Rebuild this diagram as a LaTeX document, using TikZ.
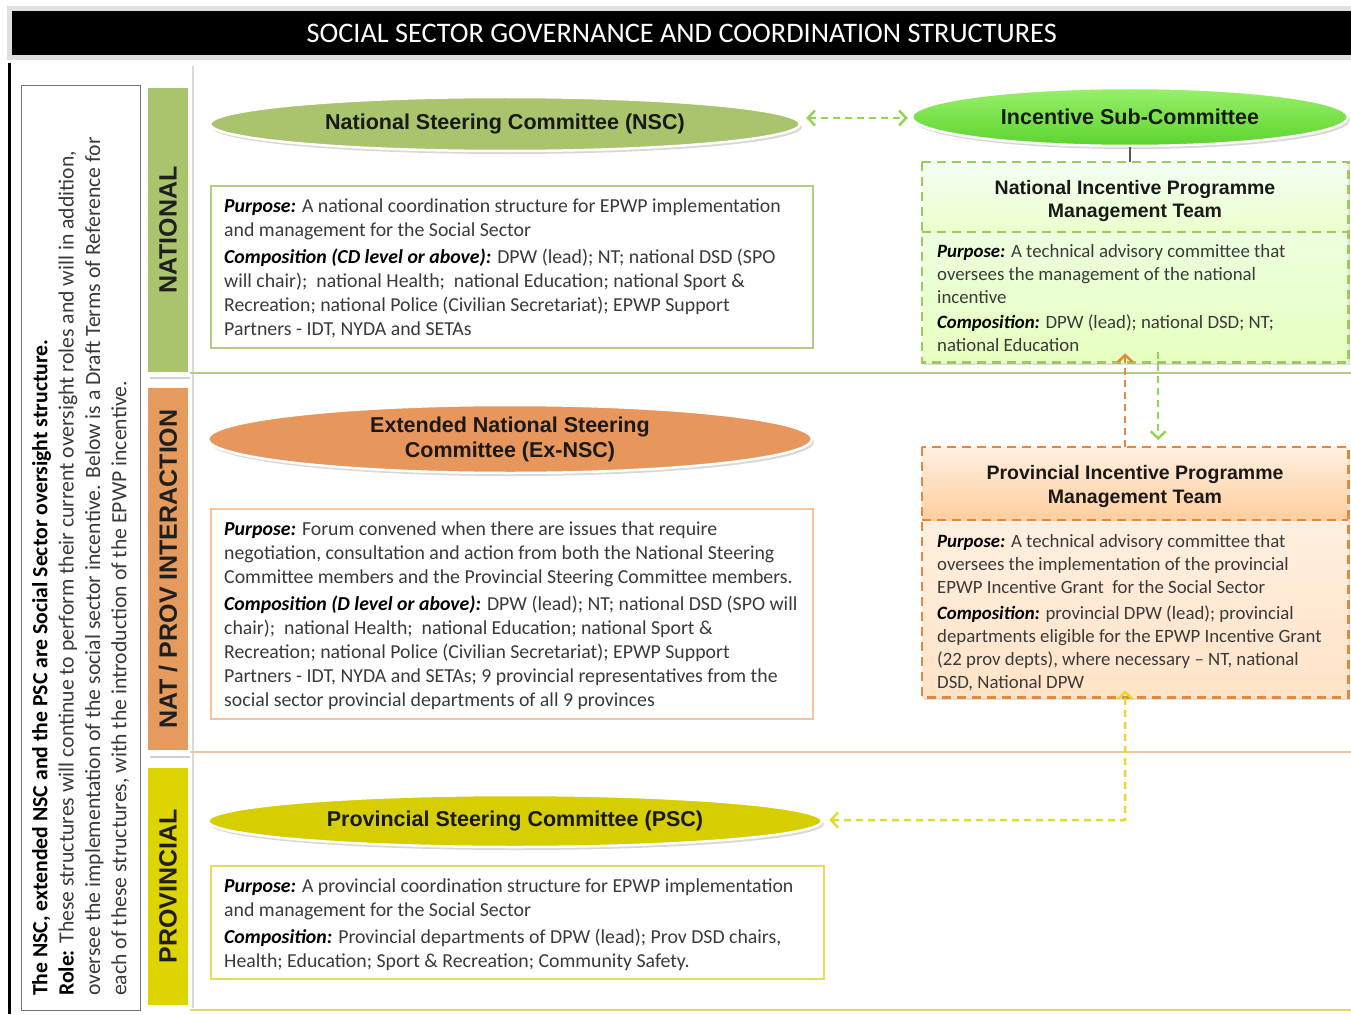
\documentclass[tikz,border=0pt]{standalone}
\usepackage{fontspec}
\setmainfont{Carlito}
\newfontfamily\headfont{Liberation Sans}
\usetikzlibrary{shapes.geometric,shadows,arrows.meta,calc}

\definecolor{natgreen}{HTML}{A9C46C}
\definecolor{natline}{HTML}{B3CC84}
\definecolor{provorange}{HTML}{E59B5E}
\definecolor{exorange}{HTML}{E8975C}
\definecolor{orangeline}{HTML}{F4C4A0}
\definecolor{provyellow}{HTML}{DDD400}
\definecolor{pscyellow}{HTML}{D6CE00}
\definecolor{yellowline}{HTML}{E4DC5A}
\definecolor{limetop}{HTML}{98F06A}
\definecolor{limebot}{HTML}{5CD42E}
\definecolor{bodygray}{HTML}{3A3A3A}
\definecolor{dashgreen}{HTML}{9CCB5C}
\definecolor{arrowgreen}{HTML}{93D456}
\definecolor{dashorange}{HTML}{E5883A}
\definecolor{arrowyellow}{HTML}{E2DA30}

\newcommand\hd[1]{\textcolor{black}{\textbf{\textit{#1}}}}

\tikzset{
  ell/.style={ellipse, draw=white, line width=2.5pt, inner sep=0pt,
    drop shadow={shadow xshift=2pt, shadow yshift=-3pt, opacity=0.3},
    font=\headfont\bfseries\fontsize{21.5}{25}\selectfont, text=black!90, align=center},
  band/.style={rotate=90, minimum height=40pt, inner sep=0pt,
    font=\headfont\bfseries\fontsize{25}{28}\selectfont, text=black!88},
  bodytext/.style={anchor=north west, align=left, inner sep=0pt, text=bodygray,
    font=\fontsize{19.8}{24}\selectfont},
  smalltext/.style={anchor=north west, align=left, inner sep=0pt, text=bodygray,
    font=\fontsize{18.8}{23}\selectfont},
  infobox/.style={anchor=north west, line width=1.8pt, inner sep=0pt, fill=white},
  teambox/.style={anchor=north west, inner sep=0pt,
    drop shadow={shadow xshift=1.5pt, shadow yshift=-2.5pt, opacity=0.25}},
  teamtitle/.style={align=center, inner sep=0pt, text=black!90,
    font=\headfont\bfseries\fontsize{19.5}{24}\selectfont},
  dashedge/.style={line width=2.5pt, dash pattern=on 9pt off 6pt},
  link/.style={line width=2.5pt, dash pattern=on 7pt off 5pt,
    {Straight Barb[length=7pt,width=15pt]}-{Straight Barb[length=7pt,width=15pt]}},
  uplink/.style={line width=2.5pt, dash pattern=on 7pt off 5pt,
    -{Straight Barb[length=7pt,width=15pt]}}
}

\begin{document}
\begin{tikzpicture}[x=1pt, y=-1pt]
\useasboundingbox (0,0) rectangle (1351,1014);
\fill[white] (0,0) rectangle (1351,1014);

% heading bar
\fill[black!12] (7,6) rectangle (1351,60);
\node (title) [fill=black, text=white, minimum width=1339pt, minimum height=44pt,
  inner sep=0pt, anchor=north west, font=\fontsize{28.3}{30}\selectfont] at (12,11)
  {SOCIAL SECTOR GOVERNANCE AND COORDINATION STRUCTURES};

\draw[line width=3pt] (9,63) -- (9,1014);

% role statement
\node (role) [draw=black!55, line width=1.2pt, minimum width=119pt, minimum height=925pt,
  anchor=north west, inner sep=0pt] at (21,85) {};
\node (roletext) [rotate=90, anchor=north west, align=left, inner sep=0pt, text=bodygray,
  font=\fontsize{21.7}{26.3}\selectfont] at (32,996)
  {\textcolor{black}{\textbf{The NSC, extended NSC and the PSC are Social Sector oversight structure.}}\\
   \textcolor{black}{\textbf{Role:}} These structures will continue to perform their current oversight roles and will in addition,\\
   oversee the implementation of the social sector incentive. Below is a Draft Terms of Reference for\\
   each of these structures, with the introduction of the EPWP incentive.};

% level bands
\node (bandnat) [band, fill=natgreen, minimum width=284pt] at (168,230) {NATIONAL};
\node (bandint) [band, fill=provorange, minimum width=362pt] at (168,569) {NAT / PROV INTERACTION};
\node (bandprov) [band, fill=provyellow, minimum width=237pt] at (168,886.5) {PROVINCIAL};

% separators
\draw[black!15, line width=1.5pt] (193,66) -- (193,1008);
\draw[black!18, line width=2pt] (150,378) -- (190,378);
\draw[black!18, line width=2pt] (150,757) -- (190,757);
\draw[natline, line width=2pt] (190,373) -- (1351,373);
\draw[orangeline, line width=2.5pt] (190,752) -- (1351,752);
\draw[yellowline, line width=2pt] (190,1010) -- (1351,1010);

% national steering committee
\node (nsc) [ell, fill=natgreen, minimum width=590pt, minimum height=54pt] at (505,124)
  {National Steering Committee (NSC)};
\node (nscbox) [infobox, draw=natline, minimum width=602pt, minimum height=162pt] at (210,185) {};
\node (nsctext) [bodytext] at (224,198.5)
  {\hd{Purpose:} A national coordination structure for EPWP implementation\\
   and management for the Social Sector\\[3pt]
   \hd{Composition (CD level or above):} DPW (lead); NT; national DSD (SPO\\
   will chair);\ \ national Health;\ \ national Education; national Sport \&\\
   Recreation; national Police (Civilian Secretariat); EPWP Support\\
   Partners - IDT, NYDA and SETAs};

% extended national steering committee
\node (exnsc) [ell, fill=exorange, minimum width=604pt, minimum height=68pt] at (510,439)
  {Extended National Steering\\Committee (Ex-NSC)};
\node (exbox) [infobox, draw=orangeline, minimum width=602pt, minimum height=210pt] at (210,508) {};
\node (extext) [bodytext] at (224,521.5)
  {\hd{Purpose:} Forum convened when there are issues that require\\
   negotiation, consultation and action from both the National Steering\\
   Committee members and the Provincial Steering Committee members.\\[3pt]
   \hd{Composition (D level or above):} DPW (lead); NT; national DSD (SPO will\\
   chair);\ \ national Health;\ \ national Education; national Sport \&\\
   Recreation; national Police (Civilian Secretariat); EPWP Support\\
   Partners - IDT, NYDA and SETAs; 9 provincial representatives from the\\
   social sector provincial departments of all 9 provinces};

% provincial steering committee
\node (psc) [ell, fill=pscyellow, minimum width=614pt, minimum height=52pt] at (515,821)
  {Provincial Steering Committee (PSC)};
\node (pscbox) [infobox, draw=yellowline, minimum width=613pt, minimum height=113pt] at (210,865) {};
\node (psctext) [bodytext] at (224,878.5)
  {\hd{Purpose:} A provincial coordination structure for EPWP implementation\\
   and management for the Social Sector\\[3pt]
   \hd{Composition:} Provincial departments of DPW (lead); Prov DSD chairs,\\
   Health; Education; Sport \& Recreation; Community Safety.};

% incentive sub-committee
\node (isc) [ell, top color=limetop, bottom color=limebot, minimum width=436pt, minimum height=58pt]
  at (1130,117) {Incentive Sub-Committee};

% national incentive programme management team
\node (nipmt) [teambox, top color=green!6, bottom color=green!18!lime!25,
  minimum width=426pt, minimum height=200pt] at (922,162) {};
\shade[top color=green!5, bottom color=green!14!lime!20] (922,162) rectangle (1348,232);
\draw[dashgreen, dashedge] (nipmt.north west) rectangle (nipmt.south east);
\draw[dashgreen, dashedge] (nipmt.west |- 0,232) -- (nipmt.east |- 0,232);
\node (nipmttitle) [teamtitle] at (1135,201) {National Incentive Programme\\Management Team};
\node (nipmttext) [smalltext] at (937,244)
  {\hd{Purpose:} A technical advisory committee that\\
   oversees the management of the national\\
   incentive\\[2pt]
   \hd{Composition:} DPW (lead); national DSD; NT;\\
   national Education};

% provincial incentive programme management team
\node (pipmt) [teambox, top color=orange!8, bottom color=orange!22,
  minimum width=426pt, minimum height=250pt] at (922,447) {};
\shade[top color=orange!12, bottom color=orange!38] (922,447) rectangle (1348,520);
\draw[dashorange, dashedge] (pipmt.north west) rectangle (pipmt.south east);
\draw[dashorange, dashedge] (pipmt.west |- 0,520) -- (pipmt.east |- 0,520);
\node (pipmttitle) [teamtitle] at (1135,486) {Provincial Incentive Programme\\Management Team};
\node (pipmttext) [smalltext] at (937,534)
  {\hd{Purpose:} A technical advisory committee that\\
   oversees the implementation of the provincial\\
   EPWP Incentive Grant\ \ for the Social Sector\\[3pt]
   \hd{Composition:} provincial DPW (lead); provincial\\
   departments eligible for the EPWP Incentive Grant\\
   (22 prov depts), where necessary -- NT, national\\
   DSD, National DPW};

% connectors
\draw[link, arrowgreen] ($(nsc.east)+(5,-6)$) -- ($(isc.west)+(-3,1)$);
\draw[black!65, line width=1.3pt] (isc.south) -- (isc.south |- nipmt.north);
\draw[uplink, dashorange] ($(pipmt.north)+(-10,0)$) -- ($(nipmt.south)+(-10,-9)$);
\draw[uplink, arrowgreen] ($(nipmt.south)+(23,-10)$) -- ($(pipmt.north)+(23,-7)$);
\coordinate (ycorner) at (1125,820);
\draw[link, arrowyellow] ($(psc.east)+(6,-1)$) -- (ycorner) -- ($(pipmt.south)+(-10,-7)$);
\end{tikzpicture}
\end{document}
